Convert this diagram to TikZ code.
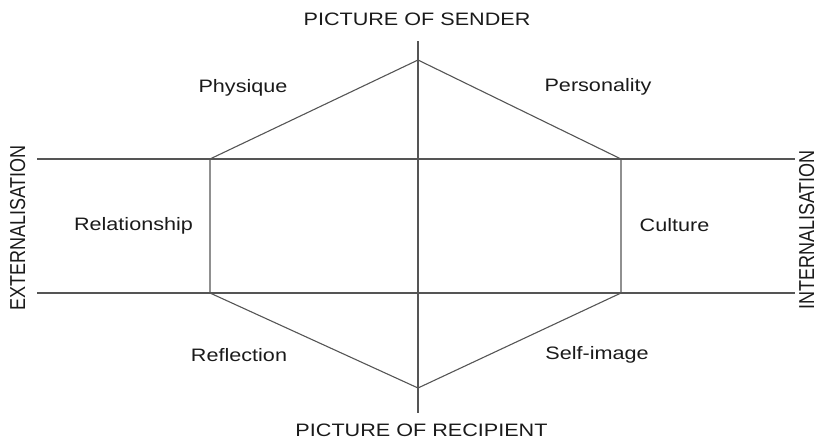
\documentclass[tikz,border=0pt]{standalone}
\usepackage{fontspec}
\setmainfont{Liberation Sans}
\usepackage{xcolor}
\definecolor{linegray}{HTML}{555555}
\definecolor{textgray}{HTML}{1A1A1A}
\tikzstyle{facet} = [text=textgray, font=\fontsize{18}{20}\selectfont, inner sep=0, anchor=base, xscale=1.2]
\tikzstyle{axislabel} = [text=textgray, font=\fontsize{18}{20}\selectfont, inner sep=0, anchor=base, xscale=1.2]
\tikzstyle{line} = [draw=linegray, line width=1.1pt]

\begin{document}
\begin{tikzpicture}[x=1pt, y=-1pt]
    \useasboundingbox (0,0) rectangle (818,439);

    \coordinate (top) at (418,60);
    \coordinate (righttop) at (621,159);
    \coordinate (rightbottom) at (621,293);
    \coordinate (bottom) at (418,388);
    \coordinate (leftbottom) at (210,293);
    \coordinate (lefttop) at (210,159);

    \coordinate (axistop) at (418,41);
    \coordinate (axisbottom) at (418,413);
    \coordinate (upperleft) at (37,159);
    \coordinate (upperright) at (795,159);
    \coordinate (lowerleft) at (37,293);
    \coordinate (lowerright) at (795,293);

    \node (sender) [axislabel] at (417,25) {PICTURE OF SENDER};
    \node (recipient) [axislabel] at (421.5,436.5) {PICTURE OF RECIPIENT};
    \node (external) [axislabel, rotate=90] at (25,228) {EXTERNALISATION};
    \node (internal) [axislabel, rotate=90] at (814,230) {INTERNALISATION};

    \node (physique) [facet] at (243,92.5) {Physique};
    \node (personality) [facet] at (598,91) {Personality};
    \node (relationship) [facet] at (133.5,230) {Relationship};
    \node (culture) [facet] at (674.5,231) {Culture};
    \node (reflection) [facet] at (239,361) {Reflection};
    \node (selfimage) [facet] at (597,359.5) {Self-image};

    \draw [line] (axistop) -- (axisbottom);
    \draw [line] (upperleft) -- (upperright);
    \draw [line] (lowerleft) -- (lowerright);
    \draw [line] (top) -- (righttop) -- (rightbottom) -- (bottom) -- (leftbottom) -- (lefttop) -- cycle;
\end{tikzpicture}
\end{document}
